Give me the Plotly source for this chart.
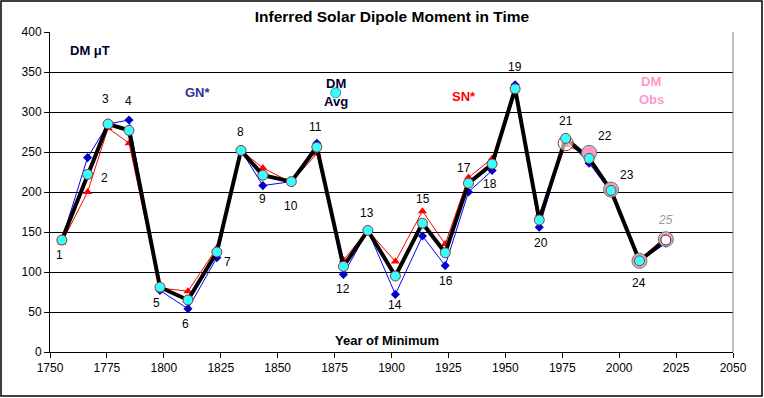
import plotly.graph_objects as go

# ---- data ----
cycle_labels = [str(i) for i in range(1, 26)]
years = [1755.2, 1766.5, 1775.5, 1784.7, 1798.3, 1810.6, 1823.3, 1833.9, 1843.5, 1856.0,
         1867.2, 1878.9, 1889.6, 1901.7, 1913.6, 1923.6, 1933.8, 1944.2, 1954.3, 1964.9,
         1976.5, 1986.8, 1996.4, 2008.9, 2020.5]
dm_avg = [140, 222, 285, 277, 81, 65, 125, 252, 221, 213, 256, 107, 152, 95, 161, 124,
          211, 235, 329, 165, 267, 242, 202, 114, 140]
gn_star = [140, 243, 285, 290, 77, 54, 118, 252, 208, 213, 261, 97, 152, 72, 145, 108,
           200, 227, 334, 156, 267, 236, 200, 113, 136]
sn_star = [137, 200, 280, 261, 80, 76, 130, 252, 230, 212, 248, 115, 152, 113, 176, 135,
           218, 242, 327, 172, 259, 245, 203, 115, 145]
obs_years = [1976.5, 1986.8, 1996.4, 2008.9, 2020.5]
dm_obs = [261, 249, 203, 114, 141]
x_ticks = [1750, 1775, 1800, 1825, 1850, 1875, 1900, 1925, 1950, 1975, 2000, 2025, 2050]
y_ticks = [0, 50, 100, 150, 200, 250, 300, 350, 400]

# label offsets in pixels (screen, down positive)
label_dx = [-2, 17, -3, -1, -3, -2, 11, -1, 0, 0, -1, 0, -1, 0, 1, 1, -4, -2, 0, 2, 0, 16, 16, 0, 0]
label_dy = [15, 4, -25, -29, 16, 24, 10, -18, 24, 24, -20, 23, -17, 29, -24, 28, -15, 20, -22, 23, -17, -22, -15, 22, -20]

FONT = "Liberation Sans, Arial, sans-serif"

fig = go.Figure()

# GN*
fig.add_trace(go.Scatter(x=years, y=gn_star, mode="lines+markers",
                         line=dict(color="#0000FF", width=1),
                         marker=dict(symbol="diamond", size=7, color="#0000CC"),
                         showlegend=False))
# SN*
fig.add_trace(go.Scatter(x=years, y=sn_star, mode="lines+markers",
                         line=dict(color="#FF0000", width=1),
                         marker=dict(symbol="triangle-up", size=8, color="#FF0000"),
                         showlegend=False))
# DM Avg line
fig.add_trace(go.Scatter(x=years, y=dm_avg, mode="lines",
                         line=dict(color="black", width=4),
                         showlegend=False, hoverinfo="skip"))
# DM Obs (pink circles)
obs_fill = ["rgba(255,255,255,0.6)", "#FF99CC", "#FF99CC", "#FF99CC", "#FF99CC"]
obs_line = ["#993333", "#339966", "#339966", "#339966", "#339966"]
fig.add_trace(go.Scatter(x=obs_years, y=dm_obs, mode="markers",
                         marker=dict(size=15, color=obs_fill,
                                     line=dict(color=obs_line, width=1)),
                         showlegend=False, hoverinfo="x+y"))
# DM Avg markers
avg_fill = ["#33FFFF"] * 24 + ["white"]
avg_line = ["#993333"] * 24 + ["#333333"]
fig.add_trace(go.Scatter(x=years, y=dm_avg, mode="markers",
                         marker=dict(size=10, color=avg_fill,
                                     line=dict(color=avg_line, width=1)),
                         showlegend=False))
# legend marker for DM Avg
fig.add_trace(go.Scatter(x=[1875.5], y=[324], mode="markers",
                         marker=dict(size=10, color="#33FFFF", line=dict(color="#339999", width=1)),
                         showlegend=False, hoverinfo="skip"))

annotations = []
for i, (lab, xv, yv) in enumerate(zip(cycle_labels, years, dm_avg)):
    is_last = i == len(cycle_labels) - 1
    annotations.append(dict(
        x=xv, y=yv, xref="x", yref="y", text=f"<i>{lab}</i>" if is_last else lab,
        showarrow=False, xshift=label_dx[i], yshift=-label_dy[i],
        font=dict(family=FONT, size=12, color="#999999" if is_last else "black")))

def txt(x, y, t, color, size=13, bold=True):
    annotations.append(dict(x=x, y=y, xref="x", yref="y", showarrow=False,
                            text=f"<b>{t}</b>" if bold else t,
                            font=dict(family=FONT, size=size, color=color)))

txt(1767.5, 377, "DM μT", "#000033")
txt(1815, 324, "GN*", "#333399")
txt(1875.5, 336, "DM", "#000033")
txt(1875.5, 313, "Avg", "#000033")
txt(1932, 319, "SN*", "#FF0000")
txt(2014, 338, "DM", "#FF99CC")
txt(2014, 316, "Obs", "#FF99CC")
txt(1898, 15, "Year of Minimum", "#000000")

fig.update_layout(
    width=764, height=398,
    margin=dict(l=50, r=31, t=32, b=46, autoexpand=False),
    paper_bgcolor="white", plot_bgcolor="white",
    title=dict(text="<b>Inferred Solar Dipole Moment in Time</b>",
               x=392 / 764, xanchor="center", y=1 - 17 / 398, yanchor="middle",
               font=dict(family=FONT, size=15.5, color="black"), automargin=False),
    font=dict(family=FONT, size=12, color="black"),
    annotations=annotations,
    xaxis=dict(range=[1750, 2050], tickvals=x_ticks, ticktext=[str(v) for v in x_ticks],
               showgrid=False, zeroline=False, showline=True, linecolor="black", linewidth=1,
               ticks="outside", ticklen=5, tickcolor="black", automargin=False,
               tickfont=dict(family=FONT, size=12, color="black"), fixedrange=True),
    yaxis=dict(range=[0, 400], tickvals=y_ticks, ticktext=[str(v) for v in y_ticks],
               showgrid=True, gridcolor="black", gridwidth=1, zeroline=False,
               showline=True, linecolor="black", linewidth=1, automargin=False,
               ticks="outside", ticklen=5, tickcolor="black",
               tickfont=dict(family=FONT, size=12, color="black"), fixedrange=True),
    shapes=[
        # plot area border (right side gray)
        dict(type="line", xref="paper", yref="paper", x0=1, x1=1, y0=0, y1=1,
             line=dict(color="#808080", width=1)),
        # outer chart border
        dict(type="rect", xref="paper", yref="paper",
             x0=(1 - 50) / 683, x1=(762 - 50) / 683,
             y0=(352 - 396) / 320, y1=(352 - 1) / 320,
             line=dict(color="black", width=1.5), layer="above"),
    ],
)

fig.write_html("out.html", config={"displayModeBar": False},
               post_script="document.body.style.margin='0';document.body.style.overflow='hidden';")
